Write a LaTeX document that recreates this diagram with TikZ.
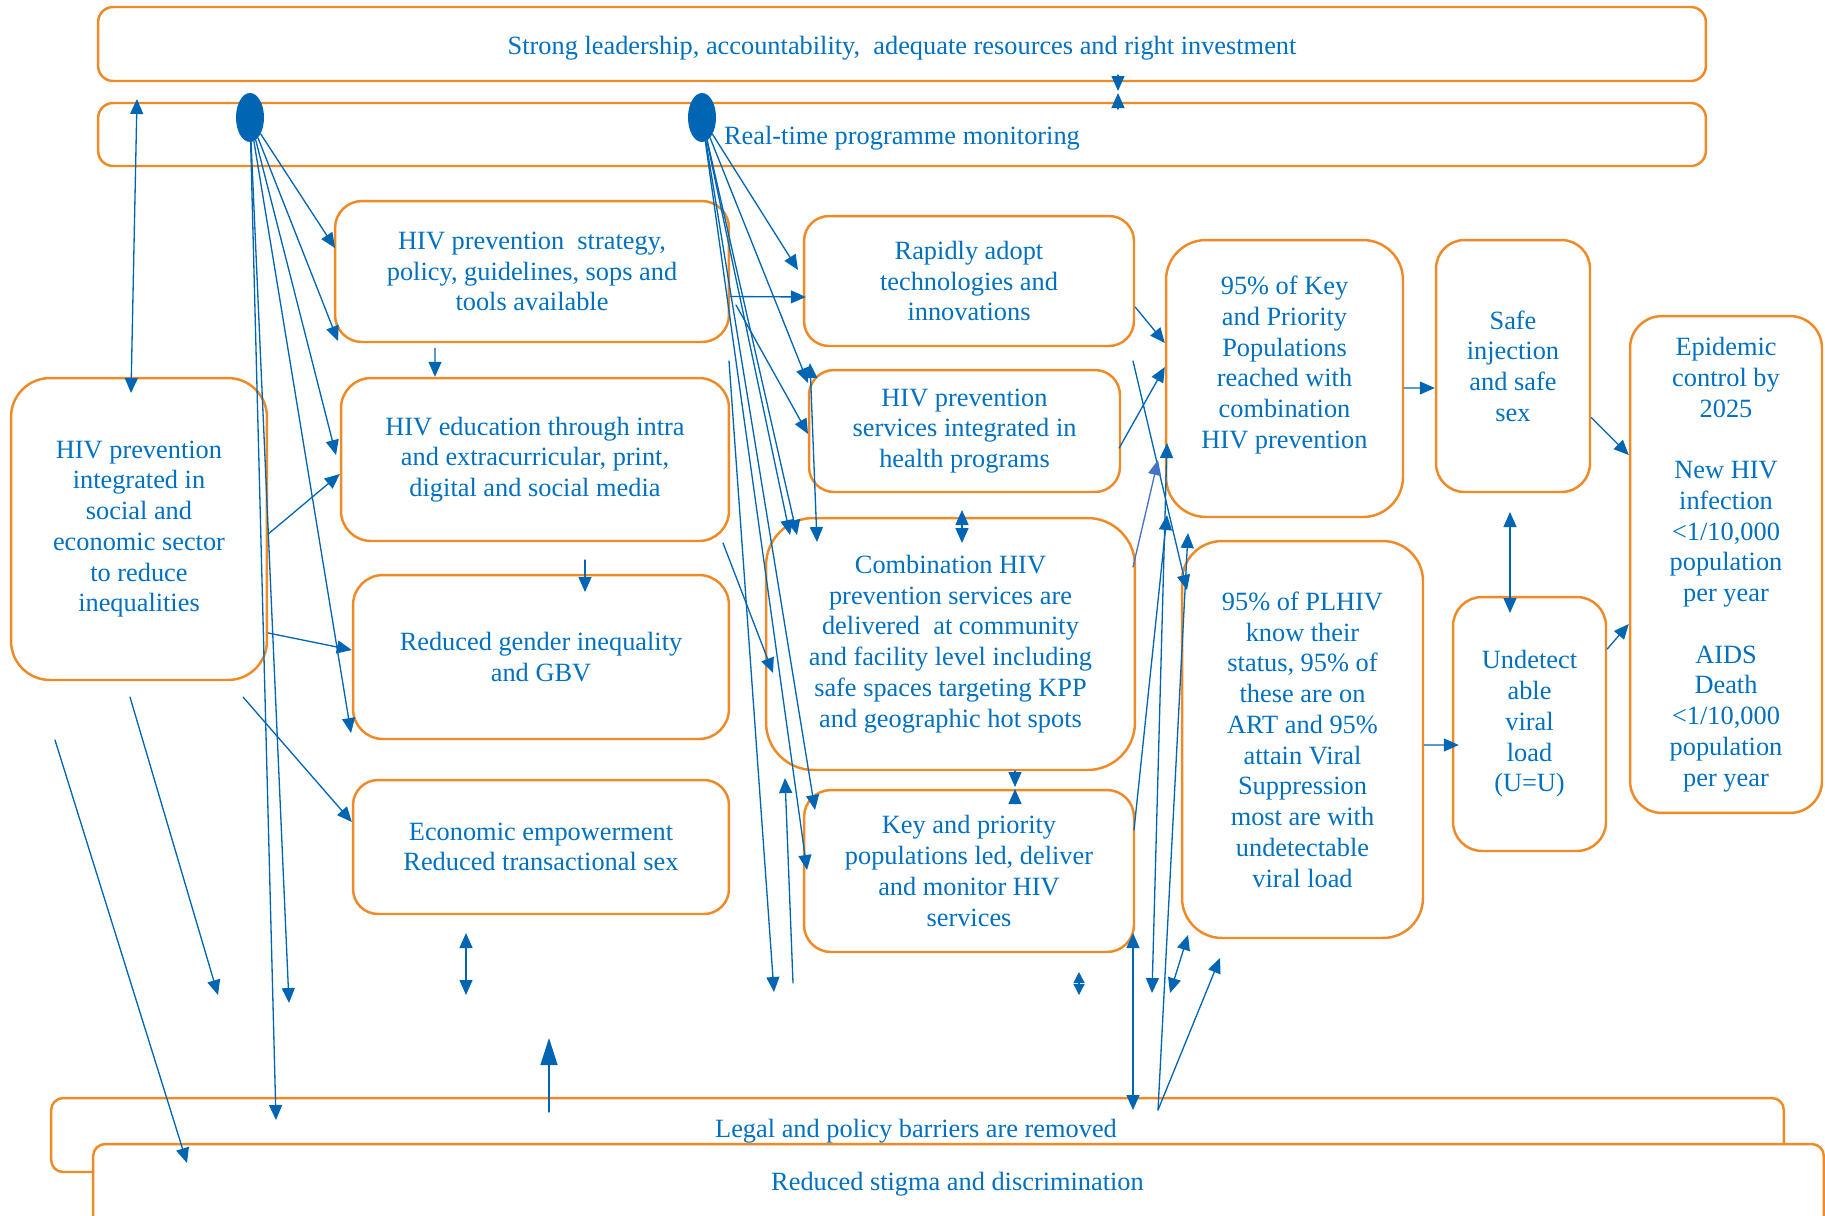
\documentclass[tikz,border=0pt]{standalone}
\usepackage{fontspec}
\setmainfont{Liberation Serif}
\usepackage{xcolor}
\definecolor{myorange}{RGB}{239,138,38}
\definecolor{myblue}{RGB}{0,102,179}
\definecolor{txtblue}{RGB}{0,112,192}
\definecolor{myviolet}{RGB}{68,114,196}
\usepackage{tikz}
\usetikzlibrary{arrows.meta,shapes.geometric}

\begin{document}
\begin{tikzpicture}[x=0.02cm,y=-0.02cm,line cap=round,>={Triangle[length=0.3cm,width=0.26cm]}]
	\tikzstyle{box}=[draw=myorange,line width=1.4pt,rounded corners=0.54cm,inner sep=0pt,align=center,text=txtblue,font=\fontsize{15}{17.5}\selectfont,execute at begin node={\rule{0pt}{15pt}}];
	\tikzstyle{txt}=[inner sep=0pt,align=center,text=txtblue,font=\fontsize{15}{17.5}\selectfont,execute at begin node={\rule{0pt}{15pt}}];
	\tikzstyle{dot}=[ellipse,fill=myblue,minimum width=0.56cm,minimum height=0.98cm,inner sep=0pt];
	\tikzstyle{arr}=[myblue,line width=0.75pt,->];
	\tikzstyle{dbl}=[myblue,line width=0.75pt,<->];
	\useasboundingbox (0,0) rectangle (1825,1215);
	% top bars
	\node[box,minimum width=32.16cm,minimum height=1.48cm,rounded corners=0.3cm] (lead) at (902,44) {Strong leadership, accountability,~ adequate resources and right investment};
	\node[box,minimum width=32.16cm,minimum height=1.26cm,rounded corners=0.3cm] (mon) at (902,134.5) {Real-time programme monitoring};
	% left column
	\node[box,minimum width=5.12cm,minimum height=6.04cm,rounded corners=0.78cm] (integ) at (139,529) {HIV prevention\\integrated in\\social and\\economic sector\\to reduce\\inequalities};
	\node[box,minimum width=7.88cm,minimum height=2.82cm] (strat) at (532,271.5) {HIV prevention~ strategy,\\policy, guidelines, sops and\\tools available};
	\node[box,minimum width=7.76cm,minimum height=3.26cm,rounded corners=0.6cm] (edu) at (535,459.5) {HIV education through intra\\and extracurricular, print,\\digital and social media};
	\node[box,minimum width=7.52cm,minimum height=3.28cm,rounded corners=0.6cm] (gender) at (541,657) {Reduced gender inequality\\and GBV};
	\node[box,minimum width=7.52cm,minimum height=2.68cm,rounded corners=0.5cm] (econ) at (541,847) {Economic empowerment\\Reduced transactional sex};
	% middle column
	\node[box,minimum width=6.6cm,minimum height=2.6cm,rounded corners=0.5cm] (tech) at (969,281) {Rapidly adopt\\technologies and\\innovations};
	\node[box,minimum width=6.22cm,minimum height=2.44cm,rounded corners=0.5cm] (health) at (964.5,431) {HIV prevention\\services integrated in\\health programs};
	\node[box,minimum width=7.38cm,minimum height=5.04cm,rounded corners=0.95cm] (combo) at (950.5,644) {Combination HIV\\prevention services are\\delivered~ at community\\and facility level including\\safe spaces targeting KPP\\and geographic hot spots};
	\node[box,minimum width=6.6cm,minimum height=3.24cm] (kplead) at (969,871) {Key and priority\\populations led, deliver\\and monitor HIV\\services};
	% right part
	\node[box,minimum width=4.74cm,minimum height=5.54cm,rounded corners=0.8cm] (kpp) at (1284.5,378.5) {};
	\node[txt] (kpptxt) at (1284.5,365) {95\% of Key\\and Priority\\Populations\\reached with\\combination\\HIV prevention};
	\node[box,minimum width=3.08cm,minimum height=5.04cm,rounded corners=0.57cm] (safe) at (1513,366) {Safe\\injection\\and safe\\sex};
	\node[box,minimum width=3.84cm,minimum height=9.94cm,rounded corners=0.64cm] (epi) at (1726,564.5) {Epidemic\\control by\\2025\\[17.5pt]New HIV\\infection\\<1/10,000\\population\\per year\\[17.5pt]AIDS\\Death\\<1/10,000\\population\\per year};
	\node[box,minimum width=4.82cm,minimum height=7.94cm,rounded corners=0.8cm] (plhiv) at (1302.5,739.5) {95\% of PLHIV\\know their\\status, 95\% of\\these are on\\ART and 95\%\\attain Viral\\Suppression\\most are with\\undetectable\\viral load};
	\node[box,minimum width=3.06cm,minimum height=5.08cm,rounded corners=0.58cm] (uu) at (1529.5,724) {Undetect\\able\\viral\\load\\(U=U)};
	% bottom bars
	\node[box,minimum width=34.66cm,minimum height=1.48cm,rounded corners=0.24cm] (legal) at (917.5,1135) {};
	\node[box,fill=white,minimum width=34.62cm,minimum height=1.68cm,rounded corners=0.24cm] (stigma) at (958.5,1186) {};
	\node[txt] (legaltxt) at (916,1127) {Legal and policy barriers are removed};
	\node[txt] (stigmatxt) at (957.5,1180) {Reduced stigma and discrimination};
	% monitoring dots
	\node[dot] (e1) at (250,117.5) {};
	\node[dot] (e2) at (702,117.5) {};
	% loose ends
	\foreach \n/\x/\y in {p1/335/248,p2/338/341,p3/336/455,p4/351/733,p5/289/1003,p6/276/1120,
		q1/798/270,q2/808/383,q3/790/535,q4/797/535,q5/815/810,q6/807/870,
		ha/810/363,hb/817/542,ia/736/305,ib/808/434,ja/723/543,jb/773/673,
		ka/729/361,kb/774/992,la/793/983,lb/785/778,ma/137/99,mb/131/393,
		ec/243/697,m1/130/697,m2/218/995,n1/55/740,n2/187/1163,
		ea/466/933,eb/466/995,ua/549/1112,ub/549/1038,hc1/962/510,hc2/962/543,
		ck1/1015/771,ck2/1015/787,ck3/1015/803,ck4/1015/789,
		lm1/1118/75,lm2/1118/91,lm3/1118/109,lm4/1118/93,
		dd1/1079/972,dd2/1079/995,eg1/585/560,eg2/585/592,
		oa/1133/361,ob/1187/590,va/1133/567,vb/1158/460,qa/1133/933,qb/1133/1110,
		ua1/1152/993,ub1/1167/443,vla/1134/830,vlb/1167/515,
		w0/1158/1110,w1/1188/533,w2/1220/958,ta/1170/993,tb/1188/935,
		su1/1510/512,su2/1510/613}
		\coordinate (\n) at (\x,\y);
	% from the dots
	\foreach \t in {p1,p2,p3,p4,p5,p6} \draw[arr] (e1) -- (\t);
	\foreach \t in {q1,q2,q3,q4,q5,q6} \draw[arr] (e2) -- (\t);
	% left side
	\draw[dbl] (ma) -- (mb);
	\draw[arr] ([yshift=-0.1cm]integ.east) -- ([yshift=-0.29cm]edu.west);
	\draw[arr] ([yshift=-2.08cm]integ.east) -- ([yshift=0.14cm]gender.west);
	\draw[arr] (ec) -- ([yshift=0.5cm]econ.west);
	\draw[arr] (m1) -- (m2);
	\draw[arr] (n1) -- (n2);
	\draw[arr] ([xshift=-1.94cm,yshift=-0.1cm]strat.south) -- ([xshift=-2cm]edu.north);
	\draw[arr] (eg1) -- (eg2);
	\draw[arr] ([yshift=-0.5cm]strat.east) -- ([yshift=-0.32cm,xshift=0.06cm]tech.west);
	\draw[dbl] (ea) -- (eb);
	\draw[myblue,line width=0.75pt,-{Triangle[length=0.54cm,width=0.34cm]}] (ua) -- (ub);
	% middle tangle
	\draw[dbl] (ha) -- (hb);
	\draw[arr] (ia) -- (ib);
	\draw[arr] (ja) -- (jb);
	\draw[arr] (ka) -- (kb);
	\draw[arr] (la) -- (lb);
	\draw[arr] (lm1) -- (lm2);
	\draw[arr] (lm3) -- (lm4);
	\draw[dbl] (hc1) -- (hc2);
	\draw[arr] (ck1) -- (ck2);
	\draw[arr] (ck3) -- (ck4);
	\draw[myblue,line width=0.75pt,{Triangle[length=0.22cm,width=0.22cm]}-{Triangle[length=0.22cm,width=0.22cm]}] (dd1) -- (dd2);
	% towards the targets
	\draw[arr] ([yshift=-0.52cm]tech.east) -- ([yshift=0.71cm]kpp.west);
	\draw[arr] ([yshift=-0.34cm,xshift=-0.04cm]health.east) -- ([yshift=0.23cm]kpp.west);
	\draw[arr] (oa) -- (ob);
	\draw[myviolet,line width=0.75pt,->] (va) -- (vb);
	\draw[dbl] (qa) -- (qb);
	\draw[dbl] (ua1) -- (ub1);
	\draw[arr] (vla) -- (vlb);
	\draw[arr] (w0) -- (w1);
	\draw[arr] (w0) -- (w2);
	\draw[dbl] (ta) -- (tb);
	\draw[arr] ([yshift=-0.19cm]kpp.east) -- ([yshift=-0.44cm]safe.west);
	\draw[arr] ([yshift=-1.03cm]safe.east) -- ([yshift=2.19cm]epi.west);
	\draw[dbl] (su1) -- (su2);
	\draw[arr] ([yshift=-0.11cm]plhiv.east) -- ([yshift=-0.42cm,xshift=0.14cm]uu.west);
	\draw[arr] ([yshift=1.5cm]uu.east) -- ([yshift=-1.19cm]epi.west);
\end{tikzpicture}
\end{document}
